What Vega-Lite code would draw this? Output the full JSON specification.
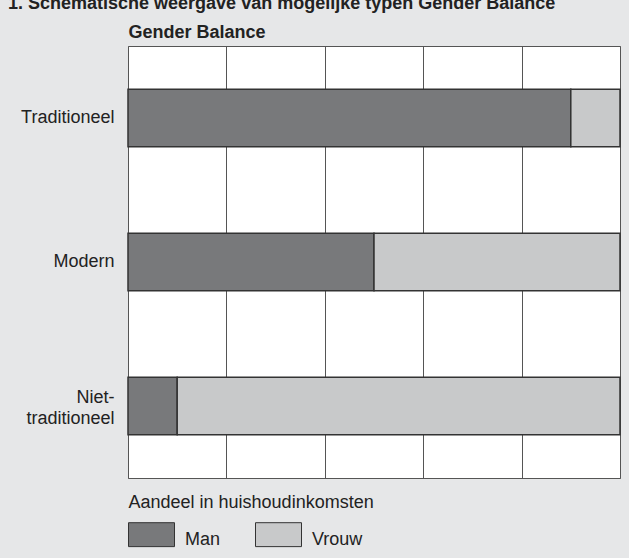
{
  "$schema": "https://vega.github.io/schema/vega-lite/v6.json",
  "width": 492,
  "height": 432,
  "autosize": {"type": "none"},
  "padding": {"left": 128, "top": 46, "right": 9, "bottom": 80},
  "background": "#e6e7e8",
  "config": {
    "font": "Liberation Sans",
    "view": {"fill": "#ffffff", "stroke": "#555555", "strokeWidth": 1}
  },
  "title": {
    "text": "1. Schematische weergave van mogelijke typen Gender Balance",
    "anchor": "start",
    "frame": "group",
    "dx": -120,
    "offset": 10,
    "fontSize": 18,
    "fontWeight": "bold",
    "color": "#222222"
  },
  "data": {
    "values": [
      {"Type": "Traditioneel", "Gender": "Man", "Share": 90},
      {"Type": "Traditioneel", "Gender": "Vrouw", "Share": 10},
      {"Type": "Modern", "Gender": "Man", "Share": 50},
      {"Type": "Modern", "Gender": "Vrouw", "Share": 50},
      {"Type": "Niet-traditioneel", "Gender": "Man", "Share": 10},
      {"Type": "Niet-traditioneel", "Gender": "Vrouw", "Share": 90}
    ]
  },
  "encoding": {
    "y": {
      "field": "Type",
      "type": "nominal",
      "sort": ["Traditioneel", "Modern", "Niet-traditioneel"],
      "scale": {"paddingInner": 0.6, "paddingOuter": 0.3},
      "axis": {
        "title": null,
        "ticks": false,
        "domain": false,
        "labelFontSize": 18,
        "labelPadding": 14,
        "labelColor": "#222222",
        "labelLineHeight": 21,
        "labelOffset": {"condition": {"test": "datum.value == 'Niet-traditioneel'", "value": -8}, "value": 0},
        "labelExpr": "datum.value == 'Niet-traditioneel' ? ['Niet-', 'traditioneel'] : datum.value"
      }
    },
    "color": {
      "field": "Gender",
      "type": "nominal",
      "scale": {"domain": ["Man", "Vrouw"], "range": ["#78797b", "#c8c9ca"]},
      "legend": {
        "title": null,
        "orient": "none",
        "legendX": 0,
        "legendY": 461,
        "padding": 0,
        "direction": "horizontal",
        "symbolType": "M-1,-0.35H1V0.69H-1Z",
        "symbolSize": 2116,
        "symbolStrokeColor": "#333333",
        "symbolStrokeWidth": 1,
        "labelFontSize": 18,
        "labelColor": "#222222",
        "labelOffset": 10,
        "labelBaseline": "top",
        "columnPadding": 32
      }
    }
  },
  "layer": [
    {
      "mark": {"type": "bar", "stroke": "#333333", "strokeWidth": 1.5},
      "encoding": {
        "x": {
          "field": "Share",
          "type": "quantitative",
          "stack": "zero",
          "scale": {"domain": [0, 100], "nice": false},
          "axis": {
            "orient": "bottom",
            "values": [0, 20, 40, 60, 80, 100],
            "labels": false,
            "ticks": false,
            "domain": false,
            "grid": true,
            "gridColor": "#555555",
            "gridWidth": 1,
            "gridOpacity": 1,
            "title": "Aandeel in huishoudinkomsten",
            "titleAnchor": "start",
            "titleFontWeight": "normal",
            "titleFontSize": 18,
            "titleColor": "#222222",
            "titlePadding": 15
          }
        }
      }
    },
    {
      "mark": {"type": "bar", "opacity": 0},
      "encoding": {
        "x": {
          "field": "Share",
          "type": "quantitative",
          "stack": "zero",
          "scale": {"domain": [0, 100], "nice": false},
          "axis": {
            "orient": "top",
            "labels": false,
            "ticks": false,
            "domain": false,
            "grid": false,
            "title": "Gender Balance",
            "titleAnchor": "start",
            "titleFontWeight": "bold",
            "titleFontSize": 18,
            "titleColor": "#222222",
            "titlePadding": 5
          }
        }
      }
    }
  ],
  "resolve": {"axis": {"x": "independent"}}
}
